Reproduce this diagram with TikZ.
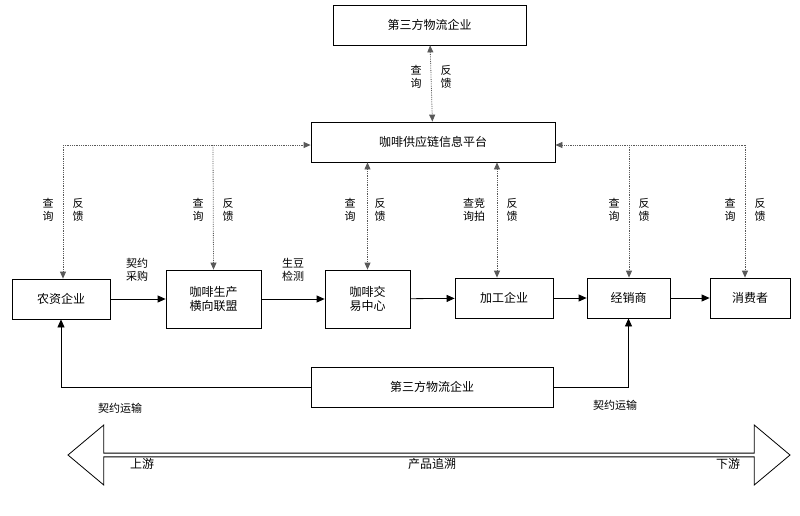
\documentclass[tikz,border=0pt]{standalone}
\usepackage{fontspec}
\setmainfont{Noto Sans CJK SC}
\usetikzlibrary{arrows.meta,shapes.arrows}
\begin{document}
\begin{tikzpicture}[x=1pt,y=-1pt,
  box/.style={draw,thick,minimum height=40pt,align=center,font=\fontsize{12}{14}\selectfont,inner sep=2pt},
  lab/.style={align=center,font=\fontsize{11}{13}\selectfont,inner sep=1pt},
  arr/.style={thick,-{Triangle[length=8pt,width=7pt]}},
  dot/.style={thick,densely dotted,gray!70!black},
  dtip/.style={dot,-{Triangle[length=7pt,width=6pt]}},
  ddtip/.style={dot,{Triangle[length=7pt,width=6pt]}-{Triangle[length=7pt,width=6pt]}}]
\useasboundingbox (0,0) rectangle (800,515);
\node[box,minimum width=193pt] (tpl) at (429.5,25) {第三方物流企业};
\node[box,minimum width=244pt] (plat) at (433,142) {咖啡供应链信息平台};
\node[box,minimum width=98pt] (nz) at (61,299) {农资企业};
\node[box,minimum width=95pt,minimum height=58pt] (lm) at (213.5,299) {咖啡生产\\横向联盟};
\node[box,minimum width=85pt,minimum height=58pt] (jy) at (367.5,299) {咖啡交\\易中心};
\node[box,minimum width=98pt] (jg) at (504,298) {加工企业};
\node[box,minimum width=83pt] (jx) at (628.5,298) {经销商};
\node[box,minimum width=80pt] (xf) at (750,298) {消费者};
\node[box,minimum width=242pt] (tpl2) at (432,387) {第三方物流企业};
% double arrow
\node[draw,thick,double arrow,double arrow head extend=6pt,double arrow tip angle=80,
  minimum height=722pt,minimum width=60pt,inner sep=0pt] (big) at (429,455) {};
\node[lab,font=\fontsize{12}{14}\selectfont] (up) at (142,464) {上游};
\node[lab,font=\fontsize{12}{14}\selectfont] (mid) at (432,464) {产品追溯};
\node[lab,font=\fontsize{12}{14}\selectfont] (dn) at (728,464) {下游};
% solid arrows
\draw[arr] (nz) -- (lm);
\draw[arr] (lm) -- (jy);
\draw[arr] (jy) -- (jg);
\draw[arr] (jg) -- (jx);
\draw[arr] (jx) -- (xf);
\draw[arr] (tpl2.west) -| (nz.south);
\draw[arr] (tpl2.east) -| (jx.south);
\node[lab] (l1) at (137,270) {契约\\采购};
\node[lab] (l2) at (293,270) {生豆\\检测};
\node[lab] (l3) at (120,408) {契约运输};
\node[lab] (l4) at (615,405) {契约运输};
% dotted
\draw[ddtip] (tpl) -- (plat);
\coordinate (cl) at (63,145);
\coordinate (cl2) at (213,145);
\coordinate (cr) at (745,145);
\coordinate (cr2) at (629,145);
\draw[dtip] (cl) -- (plat.west |- cl);
\draw[dtip] (cl) -- (nz.north -| cl);
\draw[dtip] (cl2) -- (lm.north);
\draw[dtip] (cr) -- (plat.east |- cr);
\draw[dtip] (cr) -- (xf.north -| cr);
\draw[dtip] (cr2) -- (jx.north -| cr2);
\draw[ddtip] (plat.south -| jy.north) -- (jy.north);
\draw[ddtip] (plat.south -| 497,0) -- (jg.north -| 497,0);
% query labels
\node[lab] (q0a) at (416,77) {查\\询};
\node[lab] (q0b) at (446,77) {反\\馈};
\foreach \x/\n in {63/a,213/b,365/c,629/e,745/f}{
  \node[lab] (q\n1) at (\x-15,210) {查\\询};
  \node[lab] (q\n2) at (\x+15,210) {反\\馈};
}
\node[lab] (qd1) at (474,210) {查竞\\询拍};
\node[lab] (qd2) at (512,210) {反\\馈};
\end{tikzpicture}
\end{document}
